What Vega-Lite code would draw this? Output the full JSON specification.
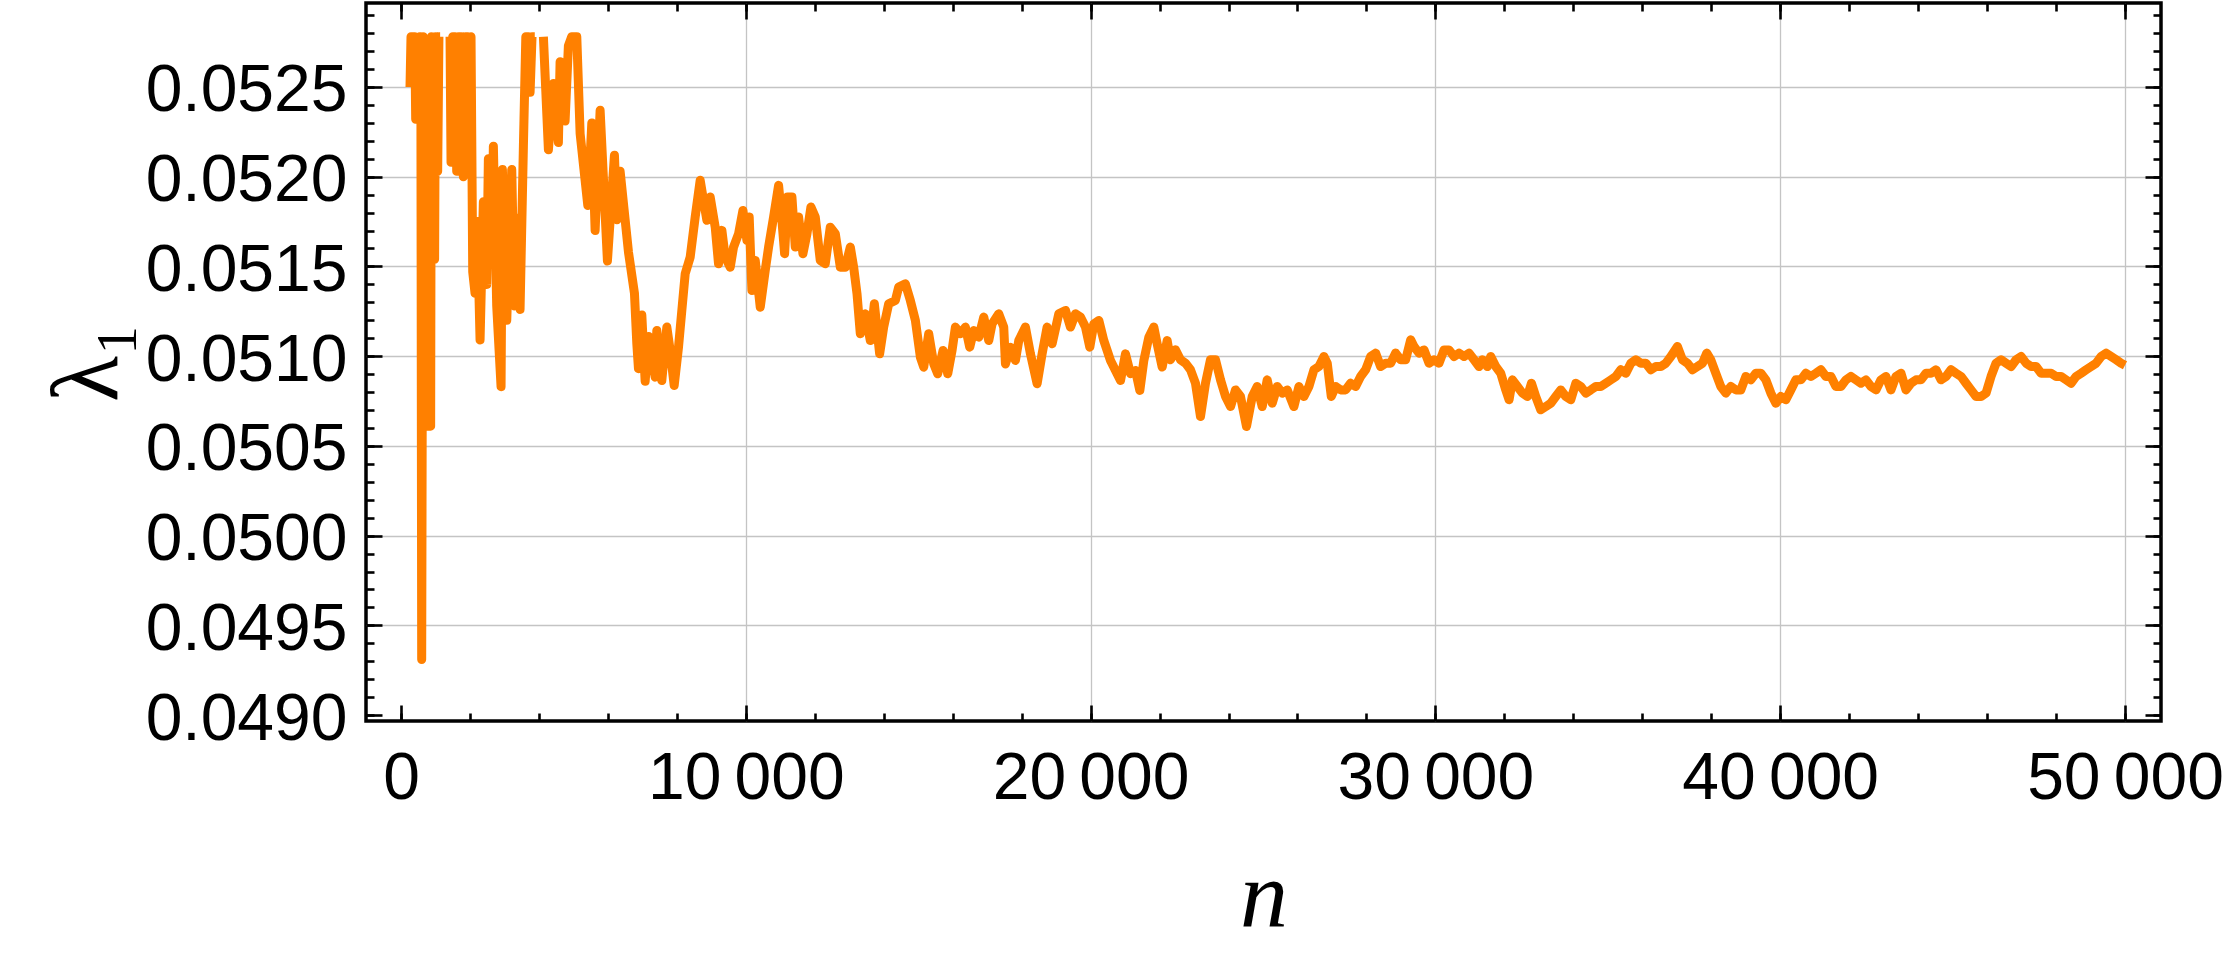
{
  "$schema": "https://vega.github.io/schema/vega-lite/v6.json",
  "width": 1795,
  "height": 718,
  "autosize": "none",
  "padding": {"left": 366, "top": 3, "right": 62, "bottom": 237},
  "background": "white",
  "config": {
    "view": {"stroke": "black", "strokeWidth": 3.5},
    "axis": {
      "tickColor": "black",
      "tickWidth": 2.6,
      "domain": false,
      "labelFont": "Liberation Sans",
      "labelFontSize": 66,
      "labelColor": "black",
      "labelFlush": false,
      "labelOverlap": false,
      "labelLimit": 0,
      "gridColor": "#c4c4c4",
      "gridWidth": 1.3
    }
  },
  "data": {
    "values": [
      {"n": 261, "v": 0.0525}, {"n": 290, "v": 0.05278}, {"n": 400, "v": 0.05278}, {"n": 426, "v": 0.05232},
      {"n": 505, "v": 0.05232}, {"n": 540, "v": 0.05278}, {"n": 575, "v": 0.05278}, {"n": 600, "v": 0.04931},
      {"n": 640, "v": 0.05278}, {"n": 690, "v": 0.05266}, {"n": 720, "v": 0.05061}, {"n": 860, "v": 0.05061},
      {"n": 880, "v": 0.05278}, {"n": 910, "v": 0.05154}, {"n": 975, "v": 0.05154}, {"n": 1000, "v": 0.05278},
      {"n": 1064, "v": 0.05203}, {"n": 1100, "v": 0.05278}, {"n": 1135, "v": 0.05278}, {"n": 1280, "v": null},
      {"n": 1422, "v": 0.05278}, {"n": 1451, "v": 0.05208}, {"n": 1500, "v": 0.05278}, {"n": 1570, "v": 0.05278},
      {"n": 1616, "v": 0.05203}, {"n": 1660, "v": 0.05278}, {"n": 1712, "v": 0.05203}, {"n": 1760, "v": 0.05278},
      {"n": 1809, "v": 0.052}, {"n": 1870, "v": 0.05278}, {"n": 1940, "v": 0.05278}, {"n": 1975, "v": 0.0523},
      {"n": 2031, "v": 0.05278}, {"n": 2080, "v": 0.05147}, {"n": 2147, "v": 0.05135}, {"n": 2210, "v": 0.05175},
      {"n": 2293, "v": 0.05109}, {"n": 2389, "v": 0.05186}, {"n": 2486, "v": 0.0514}, {"n": 2534, "v": 0.0521},
      {"n": 2631, "v": 0.05161}, {"n": 2679, "v": 0.05217}, {"n": 2776, "v": 0.05128}, {"n": 2902, "v": 0.05083},
      {"n": 2941, "v": 0.05204}, {"n": 3067, "v": 0.0512}, {"n": 3212, "v": 0.05204}, {"n": 3289, "v": 0.05128},
      {"n": 3405, "v": 0.05177}, {"n": 3453, "v": 0.05126}, {"n": 3550, "v": 0.05217}, {"n": 3620, "v": 0.05278},
      {"n": 3700, "v": 0.05278}, {"n": 3744, "v": 0.05247}, {"n": 3800, "v": 0.05278}, {"n": 3880, "v": 0.05278},
      {"n": 4000, "v": null}, {"n": 4130, "v": 0.05278}, {"n": 4275, "v": 0.05215}, {"n": 4420, "v": 0.05252},
      {"n": 4565, "v": 0.05219}, {"n": 4614, "v": 0.05264}, {"n": 4759, "v": 0.05231}, {"n": 4855, "v": 0.05273},
      {"n": 4950, "v": 0.05278}, {"n": 5098, "v": 0.05278}, {"n": 5195, "v": 0.05224}, {"n": 5418, "v": 0.05184},
      {"n": 5534, "v": 0.0523}, {"n": 5630, "v": 0.0517}, {"n": 5775, "v": 0.05237}, {"n": 5987, "v": 0.05153},
      {"n": 6190, "v": 0.05212}, {"n": 6260, "v": 0.05176}, {"n": 6355, "v": 0.05203}, {"n": 6597, "v": 0.05158},
      {"n": 6771, "v": 0.05135}, {"n": 6839, "v": 0.05107}, {"n": 6887, "v": 0.05093}, {"n": 6984, "v": 0.05123},
      {"n": 7081, "v": 0.05086}, {"n": 7180, "v": 0.05111},
      {"n": 7226, "v": 0.051069}, {"n": 7371, "v": 0.050883}, {"n": 7419, "v": 0.051143}, {"n": 7564, "v": 0.050864},
      {"n": 7710, "v": 0.051162}, {"n": 7806, "v": 0.051032}, {"n": 7923, "v": 0.050836}, {"n": 8048, "v": 0.05105},
      {"n": 8145, "v": 0.051255}, {"n": 8242, "v": 0.051459}, {"n": 8387, "v": 0.051552}, {"n": 8532, "v": 0.051775},
      {"n": 8677, "v": 0.05198}, {"n": 8774, "v": 0.051868}, {"n": 8871, "v": 0.051757}, {"n": 8967, "v": 0.051887},
      {"n": 9113, "v": 0.051719}, {"n": 9209, "v": 0.051515}, {"n": 9306, "v": 0.051701}, {"n": 9403, "v": 0.051552},
      {"n": 9548, "v": 0.051496}, {"n": 9645, "v": 0.051608}, {"n": 9790, "v": 0.051682}, {"n": 9916, "v": 0.051812},
      {"n": 10032, "v": 0.051645}, {"n": 10099, "v": 0.051775}, {"n": 10177, "v": 0.051366}, {"n": 10274, "v": 0.051533},
      {"n": 10419, "v": 0.051273}, {"n": 10564, "v": 0.051478}, {"n": 10661, "v": 0.051608}, {"n": 10806, "v": 0.051775},
      {"n": 10951, "v": 0.051952}, {"n": 11048, "v": 0.051757}, {"n": 11125, "v": 0.051571}, {"n": 11212, "v": 0.051887},
      {"n": 11338, "v": 0.051887}, {"n": 11435, "v": 0.051608}, {"n": 11531, "v": 0.051775}, {"n": 11657, "v": 0.051571},
      {"n": 11773, "v": 0.051682}, {"n": 11889, "v": 0.051831}, {"n": 12015, "v": 0.051775}, {"n": 12160, "v": 0.051533},
      {"n": 12305, "v": 0.051515}, {"n": 12450, "v": 0.051719}, {"n": 12596, "v": 0.051682}, {"n": 12741, "v": 0.051496},
      {"n": 12886, "v": 0.051496}, {"n": 13031, "v": 0.051608}, {"n": 13128, "v": 0.051496}, {"n": 13225, "v": 0.051348},
      {"n": 13321, "v": 0.051125}, {"n": 13466, "v": 0.051236}, {"n": 13612, "v": 0.051087}, {"n": 13728, "v": 0.051292},
      {"n": 13882, "v": 0.051013}, {"n": 13999, "v": 0.051162}, {"n": 14144, "v": 0.051292}, {"n": 14337, "v": 0.05131},
      {"n": 14434, "v": 0.051385}, {"n": 14628, "v": 0.051403}, {"n": 14773, "v": 0.05131}, {"n": 14918, "v": 0.051199},
      {"n": 15063, "v": 0.050994}, {"n": 15160, "v": 0.050939}, {"n": 15305, "v": 0.051125}, {"n": 15450, "v": 0.050957},
      {"n": 15566, "v": 0.050902}, {"n": 15721, "v": 0.051032}, {"n": 15857, "v": 0.050902}, {"n": 15982, "v": 0.051032},
      {"n": 16079, "v": 0.051162}, {"n": 16224, "v": 0.051125}, {"n": 16369, "v": 0.051162}, {"n": 16495, "v": 0.05105},
      {"n": 16611, "v": 0.051143}, {"n": 16756, "v": 0.051106}, {"n": 16901, "v": 0.051218}, {"n": 17046, "v": 0.051087},
      {"n": 17143, "v": 0.05118}, {"n": 17336, "v": 0.051236}, {"n": 17481, "v": 0.051162}, {"n": 17530, "v": 0.050957},
      {"n": 17675, "v": 0.05105}, {"n": 17820, "v": 0.050976}, {"n": 17917, "v": 0.051087}, {"n": 18110, "v": 0.051162},
      {"n": 18255, "v": 0.051013}, {"n": 18449, "v": 0.050846}, {"n": 18594, "v": 0.051013}, {"n": 18739, "v": 0.051162},
      {"n": 18884, "v": 0.051069}, {"n": 19078, "v": 0.051236}, {"n": 19271, "v": 0.051255}, {"n": 19416, "v": 0.051162},
      {"n": 19561, "v": 0.051236}, {"n": 19706, "v": 0.051218}, {"n": 19851, "v": 0.051162}, {"n": 19977, "v": 0.05105},
      {"n": 20093, "v": 0.05118}, {"n": 20238, "v": 0.051199}, {"n": 20383, "v": 0.051087}, {"n": 20577, "v": 0.050976},
      {"n": 20722, "v": 0.05092}, {"n": 20867, "v": 0.050864}, {"n": 21012, "v": 0.051013}, {"n": 21157, "v": 0.050902},
      {"n": 21302, "v": 0.05092}, {"n": 21428, "v": 0.050809}, {"n": 21544, "v": 0.050976}, {"n": 21689, "v": 0.051106},
      {"n": 21834, "v": 0.051162}, {"n": 21931, "v": 0.051069}, {"n": 22076, "v": 0.050939}, {"n": 22221, "v": 0.051087},
      {"n": 22316, "v": 0.05098}, {"n": 22461, "v": 0.051035}, {"n": 22607, "v": 0.05098}, {"n": 22752, "v": 0.050961},
      {"n": 22897, "v": 0.050924}, {"n": 23042, "v": 0.050849}, {"n": 23187, "v": 0.050664}, {"n": 23332, "v": 0.050849},
      {"n": 23477, "v": 0.05098}, {"n": 23623, "v": 0.05098}, {"n": 23768, "v": 0.050868}, {"n": 23913, "v": 0.050775},
      {"n": 24058, "v": 0.050719}, {"n": 24203, "v": 0.050812}, {"n": 24348, "v": 0.050775}, {"n": 24522, "v": 0.050608},
      {"n": 24687, "v": 0.050775}, {"n": 24832, "v": 0.050831}, {"n": 24977, "v": 0.050719}, {"n": 25122, "v": 0.050868},
      {"n": 25268, "v": 0.050738}, {"n": 25413, "v": 0.050831}, {"n": 25558, "v": 0.050794}, {"n": 25703, "v": 0.050812},
      {"n": 25896, "v": 0.050719}, {"n": 26042, "v": 0.050831}, {"n": 26187, "v": 0.050775}, {"n": 26332, "v": 0.050831},
      {"n": 26477, "v": 0.050924}, {"n": 26622, "v": 0.050942}, {"n": 26767, "v": 0.050998}, {"n": 26864, "v": 0.050961},
      {"n": 26980, "v": 0.050775}, {"n": 27106, "v": 0.050831}, {"n": 27251, "v": 0.050812}, {"n": 27396, "v": 0.050812},
      {"n": 27541, "v": 0.050849}, {"n": 27686, "v": 0.050831}, {"n": 27831, "v": 0.050887}, {"n": 27976, "v": 0.050924},
      {"n": 28121, "v": 0.050998}, {"n": 28267, "v": 0.051017}, {"n": 28412, "v": 0.050942}, {"n": 28557, "v": 0.050961},
      {"n": 28702, "v": 0.050961}, {"n": 28847, "v": 0.051017}, {"n": 28992, "v": 0.05098}, {"n": 29137, "v": 0.05098},
      {"n": 29283, "v": 0.051091}, {"n": 29379, "v": 0.051054}, {"n": 29525, "v": 0.051017}, {"n": 29670, "v": 0.051035},
      {"n": 29815, "v": 0.050961}, {"n": 29960, "v": 0.05098}, {"n": 30105, "v": 0.050961}, {"n": 30250, "v": 0.051035},
      {"n": 30395, "v": 0.051035}, {"n": 30541, "v": 0.050998}, {"n": 30686, "v": 0.051017}, {"n": 30831, "v": 0.050998},
      {"n": 30976, "v": 0.051017}, {"n": 31121, "v": 0.05098}, {"n": 31266, "v": 0.050942}, {"n": 31363, "v": 0.05098},
      {"n": 31508, "v": 0.050942}, {"n": 31605, "v": 0.050998}, {"n": 31750, "v": 0.050942}, {"n": 31895, "v": 0.050905},
      {"n": 32040, "v": 0.050812}, {"n": 32137, "v": 0.050757}, {"n": 32234, "v": 0.050868}, {"n": 32379, "v": 0.050831},
      {"n": 32524, "v": 0.050794}, {"n": 32669, "v": 0.050775}, {"n": 32785, "v": 0.050849}, {"n": 32911, "v": 0.050775},
      {"n": 33056, "v": 0.050701}, {"n": 33201, "v": 0.050719}, {"n": 33346, "v": 0.050738}, {"n": 33491, "v": 0.050775},
      {"n": 33636, "v": 0.050812}, {"n": 33781, "v": 0.050775}, {"n": 33927, "v": 0.050757}, {"n": 34072, "v": 0.050849},
      {"n": 34217, "v": 0.050831}, {"n": 34362, "v": 0.050794}, {"n": 34507, "v": 0.050812}, {"n": 34652, "v": 0.050831},
      {"n": 34797, "v": 0.050831}, {"n": 34942, "v": 0.050849}, {"n": 35088, "v": 0.050868}, {"n": 35233, "v": 0.050887},
      {"n": 35378, "v": 0.050924}, {"n": 35523, "v": 0.050905}, {"n": 35668, "v": 0.050961}, {"n": 35813, "v": 0.05098},
      {"n": 35958, "v": 0.050961}, {"n": 36103, "v": 0.050961}, {"n": 36249, "v": 0.050924}, {"n": 36394, "v": 0.050942},
      {"n": 36539, "v": 0.050942}, {"n": 36684, "v": 0.050961}, {"n": 36829, "v": 0.050998},
      {"n": 37020, "v": 0.051054}, {"n": 37165, "v": 0.05098}, {"n": 37310, "v": 0.050961}, {"n": 37455, "v": 0.050924},
      {"n": 37600, "v": 0.050942}, {"n": 37745, "v": 0.050961}, {"n": 37871, "v": 0.051017}, {"n": 37987, "v": 0.05098},
      {"n": 38132, "v": 0.050905}, {"n": 38277, "v": 0.050831}, {"n": 38423, "v": 0.050794}, {"n": 38568, "v": 0.050831},
      {"n": 38713, "v": 0.050812}, {"n": 38858, "v": 0.050812}, {"n": 39003, "v": 0.050887}, {"n": 39148, "v": 0.050868},
      {"n": 39293, "v": 0.050905}, {"n": 39439, "v": 0.050905}, {"n": 39584, "v": 0.050868}, {"n": 39729, "v": 0.050794},
      {"n": 39874, "v": 0.050738}, {"n": 40019, "v": 0.050775}, {"n": 40164, "v": 0.050757}, {"n": 40309, "v": 0.050812},
      {"n": 40455, "v": 0.050868}, {"n": 40600, "v": 0.050868}, {"n": 40745, "v": 0.050905}, {"n": 40890, "v": 0.050887},
      {"n": 41035, "v": 0.050905}, {"n": 41180, "v": 0.050924}, {"n": 41325, "v": 0.050887}, {"n": 41471, "v": 0.050887},
      {"n": 41616, "v": 0.050831}, {"n": 41761, "v": 0.050831}, {"n": 41906, "v": 0.050868}, {"n": 42051, "v": 0.050887},
      {"n": 42196, "v": 0.050868}, {"n": 42341, "v": 0.050849}, {"n": 42487, "v": 0.050868}, {"n": 42632, "v": 0.050831},
      {"n": 42777, "v": 0.050812}, {"n": 42922, "v": 0.050868}, {"n": 43067, "v": 0.050887}, {"n": 43212, "v": 0.050812},
      {"n": 43357, "v": 0.050887}, {"n": 43503, "v": 0.050905}, {"n": 43648, "v": 0.050812}, {"n": 43793, "v": 0.050849},
      {"n": 43938, "v": 0.050868}, {"n": 44083, "v": 0.050868}, {"n": 44228, "v": 0.050905}, {"n": 44373, "v": 0.050905},
      {"n": 44519, "v": 0.050924}, {"n": 44664, "v": 0.050868}, {"n": 44809, "v": 0.050887}, {"n": 44954, "v": 0.050924},
      {"n": 45099, "v": 0.050905}, {"n": 45244, "v": 0.050887}, {"n": 45389, "v": 0.050849}, {"n": 45535, "v": 0.050812},
      {"n": 45680, "v": 0.050775}, {"n": 45825, "v": 0.050775}, {"n": 45970, "v": 0.050794}, {"n": 46115, "v": 0.050887},
      {"n": 46260, "v": 0.050961}, {"n": 46405, "v": 0.05098}, {"n": 46551, "v": 0.050961}, {"n": 46696, "v": 0.050942},
      {"n": 46841, "v": 0.05098}, {"n": 46986, "v": 0.050998}, {"n": 47131, "v": 0.050961}, {"n": 47276, "v": 0.050942},
      {"n": 47421, "v": 0.050942}, {"n": 47567, "v": 0.050905}, {"n": 47712, "v": 0.050905}, {"n": 47857, "v": 0.050905},
      {"n": 48002, "v": 0.050887}, {"n": 48147, "v": 0.050887}, {"n": 48292, "v": 0.050868}, {"n": 48437, "v": 0.050849},
      {"n": 48583, "v": 0.050887}, {"n": 48728, "v": 0.050905}, {"n": 48873, "v": 0.050924}, {"n": 49018, "v": 0.050942},
      {"n": 49163, "v": 0.050961}, {"n": 49308, "v": 0.050998}, {"n": 49453, "v": 0.051017}, {"n": 49599, "v": 0.050998},
      {"n": 49744, "v": 0.05098}, {"n": 49889, "v": 0.050961}, {"n": 50000, "v": 0.05095}
    ]
  },
  "layer": [
    {
      "mark": {"type": "line", "color": "#ff8000", "strokeWidth": 9, "strokeJoin": "round", "clip": true},
      "encoding": {
        "x": {
          "field": "n", "type": "quantitative",
          "scale": {"domain": [-1015, 51044], "nice": false, "zero": false},
          "axis": {
            "orient": "bottom",
            "values": [0, 10000, 20000, 30000, 40000, 50000],
            "tickSize": -16,
            "labelPadding": 41,
            "labelExpr": "datum.value === 0 ? '0' : format(datum.value / 1000, 'd') + '\u2009000'",
            "grid": true,
            "gridOpacity": {"condition": {"test": "datum.value === 0", "value": 0}, "value": 1},
            "title": "n",
            "titleFont": "Liberation Serif",
            "titleFontStyle": "italic",
            "titleFontWeight": "normal",
            "titleFontSize": 96,
            "titleColor": "black",
            "titleBaseline": "alphabetic",
            "titlePadding": 115
          }
        },
        "y": {
          "field": "v", "type": "quantitative",
          "scale": {"domain": [0.048967, 0.052968], "nice": false, "zero": false},
          "axis": {
            "orient": "left",
            "values": [0.049, 0.0495, 0.05, 0.0505, 0.051, 0.0515, 0.052, 0.0525],
            "tickSize": -16,
            "labelPadding": 35,
            "labelOffset": 4,
            "labelExpr": "format(datum.value, '.4f')",
            "grid": true,
            "gridOpacity": {"condition": {"test": "datum.value < 0.04905", "value": 0}, "value": 1},
            "title": "λ₁",
            "titleFont": "Liberation Serif",
            "titleFontWeight": "normal",
            "titleFontSize": 95,
            "titleColor": "black",
            "titleBaseline": "alphabetic",
            "titlePadding": 50
          }
        }
      }
    },
    {
      "mark": {"type": "line", "opacity": 0},
      "encoding": {
        "x": {
          "field": "n", "type": "quantitative",
          "axis": {
            "orient": "bottom",
            "values": [0, 2000, 4000, 6000, 8000, 10000, 12000, 14000, 16000, 18000, 20000, 22000, 24000, 26000, 28000, 30000, 32000, 34000, 36000, 38000, 40000, 42000, 44000, 46000, 48000, 50000],
            "tickSize": -8, "labels": false, "grid": false, "title": null
          }
        },
        "y": {
          "field": "v", "type": "quantitative",
          "axis": {
            "orient": "left",
            "values": [0.049, 0.0491, 0.0492, 0.0493, 0.0494, 0.0495, 0.0496, 0.0497, 0.0498, 0.0499, 0.05, 0.0501, 0.0502, 0.0503, 0.0504, 0.0505, 0.0506, 0.0507, 0.0508, 0.0509, 0.051, 0.0511, 0.0512, 0.0513, 0.0514, 0.0515, 0.0516, 0.0517, 0.0518, 0.0519, 0.052, 0.0521, 0.0522, 0.0523, 0.0524, 0.0525, 0.0526, 0.0527, 0.0528, 0.0529],
            "tickSize": -8, "labels": false, "grid": false, "title": null
          }
        }
      }
    },
    {
      "mark": {"type": "line", "opacity": 0},
      "encoding": {
        "x": {
          "field": "n", "type": "quantitative",
          "axis": {
            "orient": "top",
            "values": [0, 10000, 20000, 30000, 40000, 50000],
            "tickSize": -16, "labels": false, "grid": false, "title": null
          }
        },
        "y": {
          "field": "v", "type": "quantitative",
          "axis": {
            "orient": "right",
            "values": [0.049, 0.0495, 0.05, 0.0505, 0.051, 0.0515, 0.052, 0.0525],
            "tickSize": -16, "labels": false, "grid": false, "title": null
          }
        }
      }
    },
    {
      "mark": {"type": "line", "opacity": 0},
      "encoding": {
        "x": {
          "field": "n", "type": "quantitative",
          "axis": {
            "orient": "top",
            "values": [0, 2000, 4000, 6000, 8000, 10000, 12000, 14000, 16000, 18000, 20000, 22000, 24000, 26000, 28000, 30000, 32000, 34000, 36000, 38000, 40000, 42000, 44000, 46000, 48000, 50000],
            "tickSize": -8, "labels": false, "grid": false, "title": null
          }
        },
        "y": {
          "field": "v", "type": "quantitative",
          "axis": {
            "orient": "right",
            "values": [0.049, 0.0491, 0.0492, 0.0493, 0.0494, 0.0495, 0.0496, 0.0497, 0.0498, 0.0499, 0.05, 0.0501, 0.0502, 0.0503, 0.0504, 0.0505, 0.0506, 0.0507, 0.0508, 0.0509, 0.051, 0.0511, 0.0512, 0.0513, 0.0514, 0.0515, 0.0516, 0.0517, 0.0518, 0.0519, 0.052, 0.0521, 0.0522, 0.0523, 0.0524, 0.0525, 0.0526, 0.0527, 0.0528, 0.0529],
            "tickSize": -8, "labels": false, "grid": false, "title": null
          }
        }
      }
    }
  ],
  "resolve": {"axis": {"x": "independent", "y": "independent"}}
}
